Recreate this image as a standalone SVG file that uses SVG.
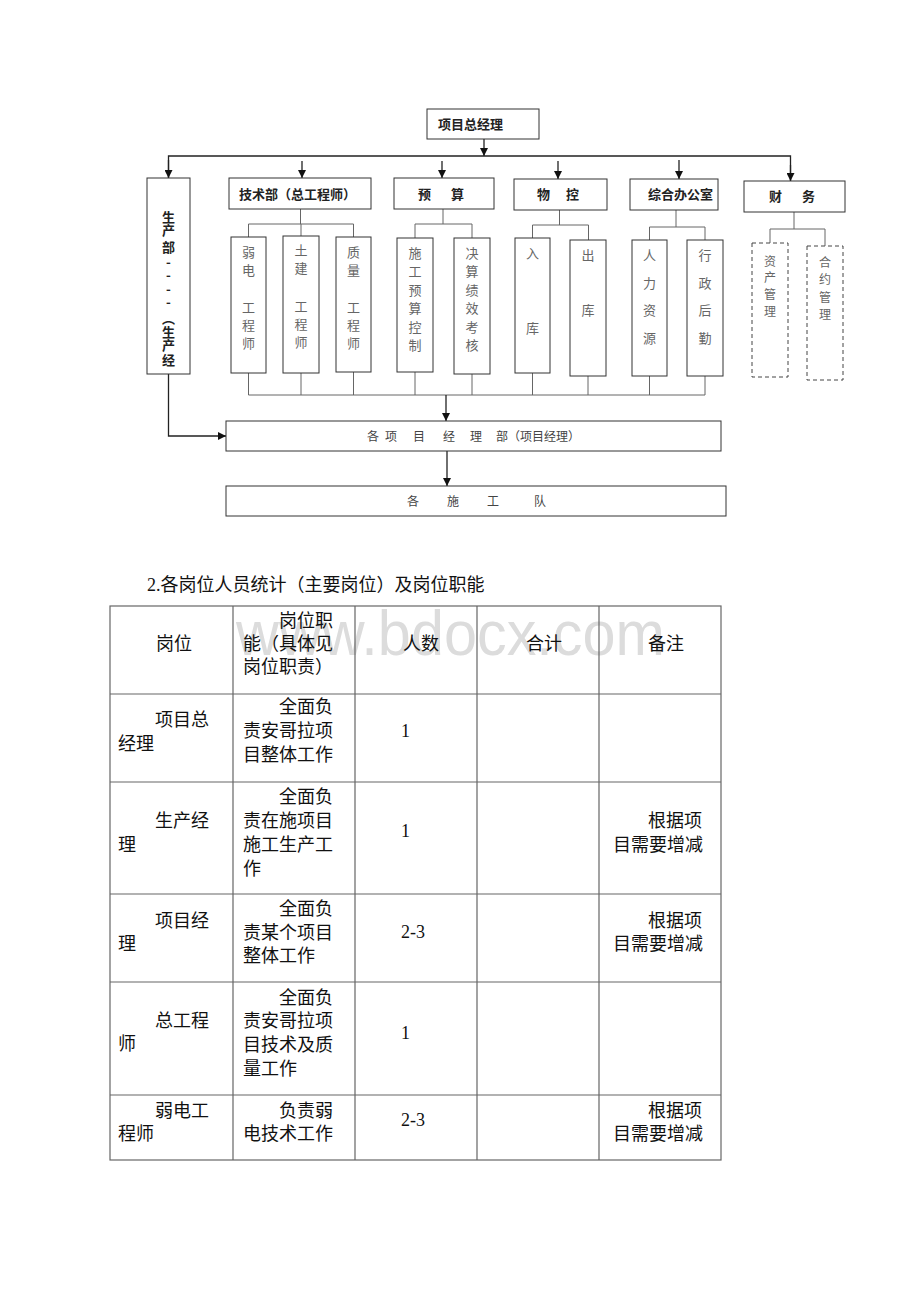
<svg xmlns="http://www.w3.org/2000/svg" width="920" height="1302" viewBox="0 0 920 1302">
<style>
.box{fill:#fff;stroke:#333;stroke-width:1}
.dash{fill:#fff;stroke:#444;stroke-width:1;stroke-dasharray:4 3}
.hd{font-family:"Noto Sans CJK SC",sans-serif;font-size:13px;font-weight:bold;fill:#222}
.sub{font-family:"Noto Sans CJK SC",sans-serif;font-size:13px;fill:#666;text-anchor:middle}
.sm{font-size:12px}
.bt{font-family:"Noto Sans CJK SC",sans-serif;font-size:12px;fill:#444}
.conn{stroke:#222;stroke-width:1.3;fill:none}
.br{stroke:#666;stroke-width:1;fill:none}
.tb{font-family:"Liberation Serif","Noto Sans CJK SC",serif;font-size:18px;fill:#111}
.grid{stroke:#666;stroke-width:1.2;fill:none}
.wm{font-family:"Liberation Sans",sans-serif;font-size:63px;fill:#dcdcdc}
</style>
<defs>
<marker id="ah" markerUnits="userSpaceOnUse" markerWidth="8" markerHeight="8" refX="8" refY="4" orient="auto">
<path d="M0,0 L8,4 L0,8 z" fill="#111"/>
</marker>
</defs>
<rect width="920" height="1302" fill="#fff"/>

<g id="connectors">
<path class="conn" d="M484,139 V156" marker-end="url(#ah)"/>
<path class="conn" d="M168.5,178 V156 H790.5 V181" />
<path class="conn" d="M168.5,160 V178" marker-end="url(#ah)"/>
<path class="conn" d="M790.5,165 V181" marker-end="url(#ah)"/>
<path class="conn" d="M302,161 V178" marker-end="url(#ah)"/>
<path class="conn" d="M442,161 V178" marker-end="url(#ah)"/>
<path class="conn" d="M558,161 V179" marker-end="url(#ah)"/>
<path class="conn" d="M679,160 V179" marker-end="url(#ah)"/>
<path class="br" d="M300.5,209 V224 M248.5,237 V224 H353.5 V237 M301,224 V236"/>
<path class="br" d="M443,209 V224 M415,238 V224 H472 V238"/>
<path class="br" d="M559.5,210 V225 M532.5,238 V225 H588.5 V240"/>
<path class="br" d="M676,210 V227 M649.5,240 V227 H705 V240"/>
<path class="br" d="M794,212 V229 M770,243 V229 H825 V246"/>
<path class="br" d="M248.5,373 V395 H705 M301,373 V395 M353.5,372 V395 M415,372 V395 M472,374 V395 M532.5,373 V395 M588,376 V395 M649.5,376 V395 M705,376 V395"/>
<path class="conn" d="M446,395 V421" marker-end="url(#ah)"/>
<path class="conn" d="M168.5,374 V436 H226" marker-end="url(#ah)"/>
<path class="conn" d="M447,451 V486" marker-end="url(#ah)"/>
</g>

<g id="n-gm">
<rect class="box" x="427" y="109" width="112" height="30"/>
<text class="hd" x="438" y="128.5">项目总经理</text>
</g>
<g id="n-prod">
<rect class="box" x="147" y="178" width="43" height="196"/>
<text class="hd" text-anchor="middle">
<tspan x="168.5" y="221.5">生</tspan><tspan x="168.5" y="234.5">产</tspan><tspan x="168.5" y="251.5">部</tspan><tspan x="168.5" y="266.5">-</tspan><tspan x="168.5" y="279.5">-</tspan><tspan x="168.5" y="293.5">-</tspan><tspan x="168.5" y="306.5">-</tspan><tspan x="168.5" y="322.5">︵</tspan><tspan x="168.5" y="336.5">生</tspan><tspan x="168.5" y="349.5">产</tspan><tspan x="168.5" y="364.5">经</tspan>
</text>
</g>
<g id="n-tech">
<rect class="box" x="229" y="178" width="142" height="31"/>
<text class="hd" x="239" y="198.5">技术部（总工程师）</text>
</g>
<g id="n-budget">
<rect class="box" x="394" y="178" width="100" height="31"/>
<text class="hd" x="418 451" y="198.5">预算</text>
</g>
<g id="n-mat">
<rect class="box" x="514" y="179" width="93" height="31"/>
<text class="hd" x="537 566" y="199">物控</text>
</g>
<g id="n-office">
<rect class="box" x="630" y="179" width="88" height="31"/>
<text class="hd" x="648" y="199">综合办公室</text>
</g>
<g id="n-fin">
<rect class="box" x="744" y="181" width="101" height="31"/>
<text class="hd" x="769 802" y="201">财务</text>
</g>

<g id="n-ruodian">
<rect class="box" x="231" y="237" width="35" height="136"/>
<text class="sub"><tspan x="248.5" y="256.5">弱</tspan><tspan x="248.5" y="274.5">电</tspan><tspan x="248.5" y="311.5">工</tspan><tspan x="248.5" y="329.5">程</tspan><tspan x="248.5" y="347.5">师</tspan></text>
</g>
<g id="n-tujian">
<rect class="box" x="283" y="236" width="36" height="137"/>
<text class="sub"><tspan x="301" y="254.5">土</tspan><tspan x="301" y="272.5">建</tspan><tspan x="301" y="311">工</tspan><tspan x="301" y="328.5">程</tspan><tspan x="301" y="346.5">师</tspan></text>
</g>
<g id="n-zhiliang">
<rect class="box" x="336" y="237" width="35" height="135"/>
<text class="sub"><tspan x="353.5" y="256.5">质</tspan><tspan x="353.5" y="274.5">量</tspan><tspan x="353.5" y="311.5">工</tspan><tspan x="353.5" y="329.5">程</tspan><tspan x="353.5" y="347.5">师</tspan></text>
</g>
<g id="n-shigong">
<rect class="box" x="397" y="238" width="36" height="134"/>
<text class="sub"><tspan x="415" y="257.5">施</tspan><tspan x="415" y="276">工</tspan><tspan x="415" y="294.5">预</tspan><tspan x="415" y="313">算</tspan><tspan x="415" y="331.5">控</tspan><tspan x="415" y="350">制</tspan></text>
</g>
<g id="n-juesuan">
<rect class="box" x="454" y="238" width="36" height="136"/>
<text class="sub"><tspan x="472" y="257.5">决</tspan><tspan x="472" y="276">算</tspan><tspan x="472" y="294.5">绩</tspan><tspan x="472" y="313">效</tspan><tspan x="472" y="331.5">考</tspan><tspan x="472" y="350">核</tspan></text>
</g>
<g id="n-ruku">
<rect class="box" x="515" y="238" width="35" height="135"/>
<text class="sub"><tspan x="532.5" y="257.5">入</tspan><tspan x="532.5" y="332.5">库</tspan></text>
</g>
<g id="n-chuku">
<rect class="box" x="570" y="240" width="36" height="136"/>
<text class="sub"><tspan x="588" y="259.5">出</tspan><tspan x="588" y="314.5">库</tspan></text>
</g>
<g id="n-renli">
<rect class="box" x="632" y="240" width="35" height="136"/>
<text class="sub"><tspan x="649.5" y="259.5">人</tspan><tspan x="649.5" y="287.5">力</tspan><tspan x="649.5" y="314.5">资</tspan><tspan x="649.5" y="342.5">源</tspan></text>
</g>
<g id="n-xingzheng">
<rect class="box" x="687" y="240" width="36" height="136"/>
<text class="sub"><tspan x="705" y="259.5">行</tspan><tspan x="705" y="287.5">政</tspan><tspan x="705" y="314.5">后</tspan><tspan x="705" y="342.5">勤</tspan></text>
</g>
<g id="n-zichan">
<rect class="dash" x="752" y="243" width="36" height="134"/>
<text class="sub sm"><tspan x="770" y="266">资</tspan><tspan x="770" y="282">产</tspan><tspan x="770" y="299">管</tspan><tspan x="770" y="316">理</tspan></text>
</g>
<g id="n-heyue">
<rect class="dash" x="807" y="246" width="36" height="134"/>
<text class="sub sm"><tspan x="825" y="267">合</tspan><tspan x="825" y="284">约</tspan><tspan x="825" y="302">管</tspan><tspan x="825" y="319">理</tspan></text>
</g>

<g id="n-pmdept">
<rect class="box" x="226" y="421" width="495" height="30"/>
<text class="bt" x="367 385 413 443 470 496 508" y="440.5">各项目经理部（项目经理）</text>
</g>
<g id="n-teams">
<rect class="box" x="226" y="486" width="500" height="30"/>
<text class="bt" x="407 447 487 534" y="505.5">各施工队</text>
</g>

<g id="title">
<text class="tb" x="147" y="590.5">2.各岗位人员统计（主要岗位）及岗位职能</text>
</g>

<g id="table">
<text class="wm" x="236" y="655" textLength="429" lengthAdjust="spacingAndGlyphs">www.bdocx.com</text>
<rect class="grid" x="110" y="606" width="611" height="554"/>
<path class="grid" d="M233,606 V1160 M355,606 V1160 M477,606 V1160 M599,606 V1160 M110,694 H721 M110,782 H721 M110,894 H721 M110,982 H721 M110,1095 H721"/>
<g class="tb">
<text x="156" y="650">岗位</text>
<text x="279" y="627">岗位职</text>
<text x="243" y="650">能（具体见</text>
<text x="243" y="673">岗位职责）</text>
<text x="403" y="650">人数</text>
<text x="526" y="650">合计</text>
<text x="648" y="650">备注</text>

<text x="155" y="725.5">项目总</text>
<text x="118" y="749.5">经理</text>
<text x="279" y="713">全面负</text>
<text x="243" y="737">责安哥拉项</text>
<text x="243" y="761">目整体工作</text>
<text x="401" y="737">1</text>

<text x="155" y="826.5">生产经</text>
<text x="118" y="850.5">理</text>
<text x="279" y="802.5">全面负</text>
<text x="243" y="826.5">责在施项目</text>
<text x="243" y="850.5">施工生产工</text>
<text x="243" y="874.5">作</text>
<text x="401" y="837">1</text>
<text x="648" y="826.5">根据项</text>
<text x="613" y="850.5">目需要增减</text>

<text x="155" y="926.5">项目经</text>
<text x="118" y="950">理</text>
<text x="279" y="914.5">全面负</text>
<text x="243" y="938.5">责某个项目</text>
<text x="243" y="961.5">整体工作</text>
<text x="401" y="938">2-3</text>
<text x="648" y="926.5">根据项</text>
<text x="613" y="950">目需要增减</text>

<text x="155" y="1026.5">总工程</text>
<text x="118" y="1050">师</text>
<text x="279" y="1003.5">全面负</text>
<text x="243" y="1026.5">责安哥拉项</text>
<text x="243" y="1051">目技术及质</text>
<text x="243" y="1074.5">量工作</text>
<text x="401" y="1039">1</text>

<text x="155" y="1116.5">弱电工</text>
<text x="118" y="1140">程师</text>
<text x="279" y="1116.5">负责弱</text>
<text x="243" y="1140">电技术工作</text>
<text x="401" y="1126">2-3</text>
<text x="648" y="1116.5">根据项</text>
<text x="613" y="1140">目需要增减</text>
</g>
</g>
</svg>
